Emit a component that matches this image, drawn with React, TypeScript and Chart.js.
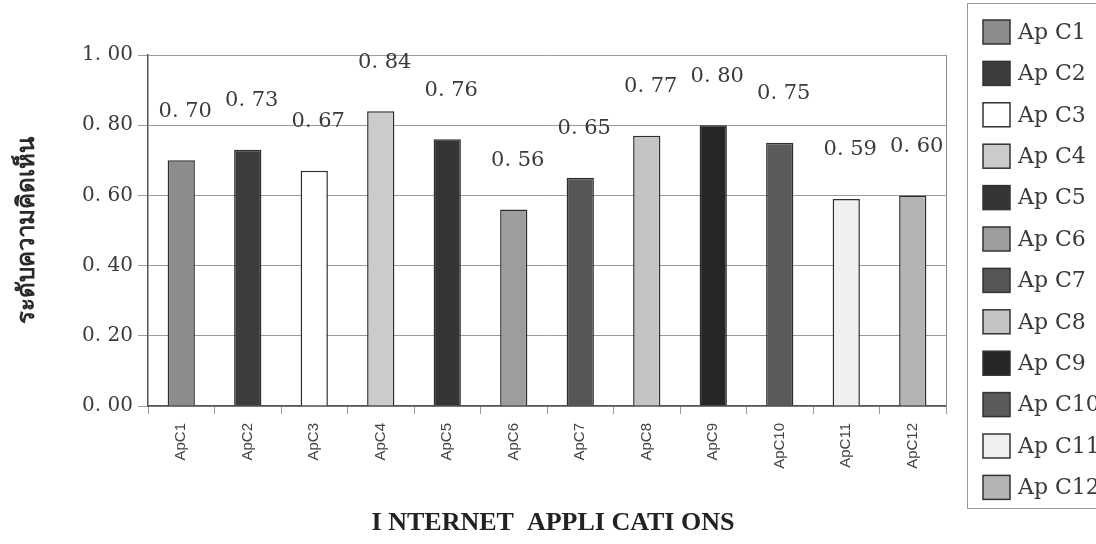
import React, { useEffect, useRef } from "react";
import { Chart, registerables } from "chart.js";

Chart.register(...registerables);

// Rating per Internet application
const categories = ["ApC1", "ApC2", "ApC3", "ApC4", "ApC5", "ApC6", "ApC7", "ApC8", "ApC9", "ApC10", "ApC11", "ApC12"];
const values = [0.7, 0.73, 0.67, 0.84, 0.76, 0.56, 0.65, 0.77, 0.8, 0.75, 0.59, 0.6];
const legendLabels = ["Ap C1", "Ap C2", "Ap C3", "Ap C4", "Ap C5", "Ap C6", "Ap C7", "Ap C8", "Ap C9", "Ap C10", "Ap C11", "Ap C12"];
const barColors = [
  "#8c8c8c", "#3c3c3c", "#ffffff", "#cbcbcb", "#353535", "#9d9d9d",
  "#565656", "#c4c4c4", "#262626", "#5a5a5a", "#f0f0f0", "#b4b4b4",
];
const yAxisTitle = "ระดับความคิดเห็น";
const xAxisTitle = "I NTERNET  APPLI CATI ONS";

const SERIF = "'Liberation Serif', 'DejaVu Serif', serif";
const WIDE_SERIF = "'DejaVu Serif', serif";

const fmt = (v: number) => v.toFixed(2).replace(".", ". ");

// Value labels above the bars, right border of the plot, the x title and the boxed legend
const decorations = {
  id: "decorations",
  afterDatasetsDraw(chart: any) {
    const { ctx, chartArea } = chart;
    const meta = chart.getDatasetMeta(0);
    ctx.save();
    // plot frame, right side
    ctx.strokeStyle = "#8a8a8a";
    ctx.lineWidth = 1;
    ctx.beginPath();
    ctx.moveTo(chartArea.right + 0.5, chartArea.top);
    ctx.lineTo(chartArea.right + 0.5, chartArea.bottom);
    ctx.stroke();

    // value labels
    ctx.fillStyle = "#3a3a3a";
    ctx.font = `21px ${WIDE_SERIF}`;
    ctx.textAlign = "center";
    ctx.textBaseline = "middle";
    meta.data.forEach((bar: any, i: number) => {
      ctx.fillText(fmt(values[i]), bar.x + 4, bar.y - 49);
    });

    // x axis title
    ctx.fillStyle = "#222";
    ctx.font = `bold 26px ${SERIF}`;
    ctx.fillText(xAxisTitle, 553, 523);

    // legend
    const lx = 967, ly = 3, lw = 160, lh = 505;
    ctx.strokeStyle = "#9a9a9a";
    ctx.lineWidth = 1;
    ctx.strokeRect(lx + 0.5, ly + 0.5, lw, lh);
    ctx.font = `22px ${WIDE_SERIF}`;
    ctx.textAlign = "left";
    legendLabels.forEach((label, i) => {
      const cy = 32 + i * 41.4;
      ctx.fillStyle = barColors[i];
      ctx.fillRect(983, cy - 12, 27, 24);
      ctx.strokeStyle = "#333";
      ctx.lineWidth = 1.5;
      ctx.strokeRect(983, cy - 12, 27, 24);
      ctx.fillStyle = "#3a3a3a";
      ctx.fillText(label, 1018, cy + 1);
    });
    ctx.restore();
  },
};

export default function App() {
  const canvasRef = useRef<HTMLCanvasElement | null>(null);

  useEffect(() => {
    if (!canvasRef.current) return;
    const chart = new Chart(canvasRef.current, {
      type: "bar",
      data: {
        labels: categories,
        datasets: [
          {
            data: values,
            backgroundColor: barColors,
            borderColor: "#2e2e2e",
            borderWidth: 1.5,
            barPercentage: 0.41,
            categoryPercentage: 1,
          },
        ],
      },
      options: {
        animation: false,
        responsive: false,
        maintainAspectRatio: false,
        layout: { padding: { top: 55, right: 150, left: 0, bottom: 0 } },
        plugins: {
          legend: { display: false },
          tooltip: { enabled: false },
        },
        scales: {
          x: {
            afterFit: (s: any) => {
              s.height = 138;
            },
            grid: {
              offset: true,
              drawOnChartArea: false,
              tickLength: 8,
              color: "#9a9a9a",
            },
            border: { display: true, color: "#555", width: 1.5 },
            ticks: {
              minRotation: 90,
              maxRotation: 90,
              padding: 9,
              color: "#444",
              font: { family: "'Liberation Sans', Arial, sans-serif", size: 15 },
            },
          },
          y: {
            min: 0,
            max: 1,
            afterFit: (s: any) => {
              s.width = 148;
            },
            grid: {
              color: "#9a9a9a",
              tickLength: 10,
              lineWidth: 1,
            },
            border: { display: true, color: "#555", width: 1.5 },
            ticks: {
              stepSize: 0.2,
              padding: 5,
              color: "#3a3a3a",
              font: { family: WIDE_SERIF, size: 20 },
              callback: (v: any) => fmt(Number(v)),
            },
            title: {
              display: true,
              text: yAxisTitle,
              color: "#2a2a2a",
              font: { family: "'Noto Sans', 'DejaVu Sans', sans-serif", size: 24, weight: "bold" },
              padding: { top: 13, bottom: 0 },
            },
          },
        },
      },
      plugins: [decorations],
    });
    return () => chart.destroy();
  }, []);

  return (
    <div style={{ position: "fixed", left: 0, top: 0, width: 1096, height: 544, background: "#fff" }}>
      <canvas ref={canvasRef} width={1096} height={544} />
    </div>
  );
}
